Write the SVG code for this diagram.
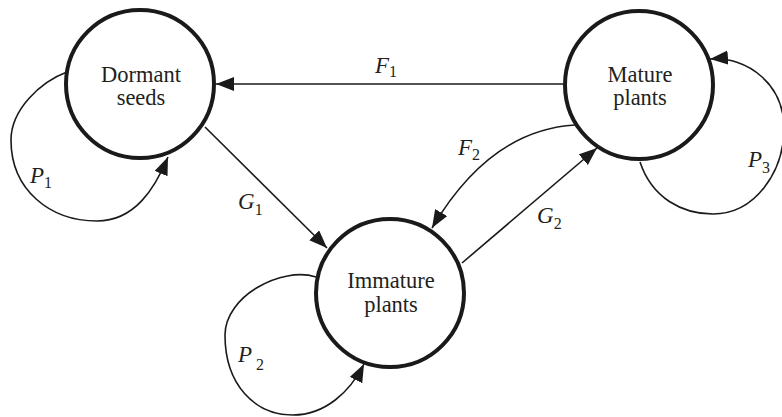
<svg xmlns="http://www.w3.org/2000/svg" width="782" height="417" viewBox="0 0 782 417">
<style>
.node{fill:#fff;stroke:#1a1a1a;stroke-width:4}
.ntext{font-family:"Liberation Serif","DejaVu Serif",serif;font-size:22.5px;fill:#231f20;text-anchor:middle}
.edge{fill:none;stroke:#1a1a1a;stroke-width:1.6}
.lbl{font-family:"Liberation Serif","DejaVu Serif",serif;font-size:23px;font-style:italic;fill:#231f20}
.sub{font-style:normal;font-size:16px}
</style>
<defs>
<marker id="arr" markerUnits="userSpaceOnUse" markerWidth="20" markerHeight="16" refX="18" refY="7" orient="auto">
<path d="M0,0 L18,7 L0,14 z" fill="#1a1a1a"/>
</marker>
</defs>
<g id="connectors">
<line class="edge" x1="563" y1="84" x2="216" y2="84" marker-end="url(#arr)"/>
<line class="edge" x1="205" y1="127" x2="327" y2="248" marker-end="url(#arr)"/>
<line class="edge" x1="462" y1="263" x2="597" y2="148" marker-end="url(#arr)"/>
<path class="edge" d="M575 125 Q490 130 432 228" marker-end="url(#arr)"/>
<path class="edge" d="M67 72 C40 82 11 110 11 140 C11 190 50 221 97 221 C135 221 155 188 168 157" marker-end="url(#arr)"/>
<path class="edge" d="M316 277 C282 266 225 296 225 335 C225 385 255 415 293 415 C325 415 350 392 364 364" marker-end="url(#arr)"/>
<path class="edge" d="M640 162 C652 198 682 214 713 214 C755 214 784 172 784 128 C784 85 748 56 710 59" marker-end="url(#arr)"/>
<text class="lbl" x="375" y="73">F<tspan class="sub" dy="4">1</tspan></text>
<text class="lbl" x="238" y="209">G<tspan class="sub" dy="6">1</tspan></text>
<text class="lbl" x="537" y="223">G<tspan class="sub" dy="6">2</tspan></text>
<text class="lbl" x="458" y="155">F<tspan class="sub" dy="5">2</tspan></text>
<text class="lbl" x="30" y="183">P<tspan class="sub" dy="5">1</tspan></text>
<text class="lbl" x="238" y="362">P<tspan class="sub" dx="4" dy="8">2</tspan></text>
<text class="lbl" x="748" y="167">P<tspan class="sub" dy="6">3</tspan></text>
</g>
<g id="dormant">
<circle class="node" cx="140" cy="84" r="74"/>
<text class="ntext" x="141" y="82">Dormant</text>
<text class="ntext" x="141" y="105">seeds</text>
</g>
<g id="mature">
<circle class="node" cx="639" cy="85" r="74"/>
<text class="ntext" x="640" y="82">Mature</text>
<text class="ntext" x="640" y="105">plants</text>
</g>
<g id="immature">
<circle class="node" cx="390" cy="293" r="74"/>
<text class="ntext" x="391" y="288">Immature</text>
<text class="ntext" x="391" y="312">plants</text>
</g>
</svg>
